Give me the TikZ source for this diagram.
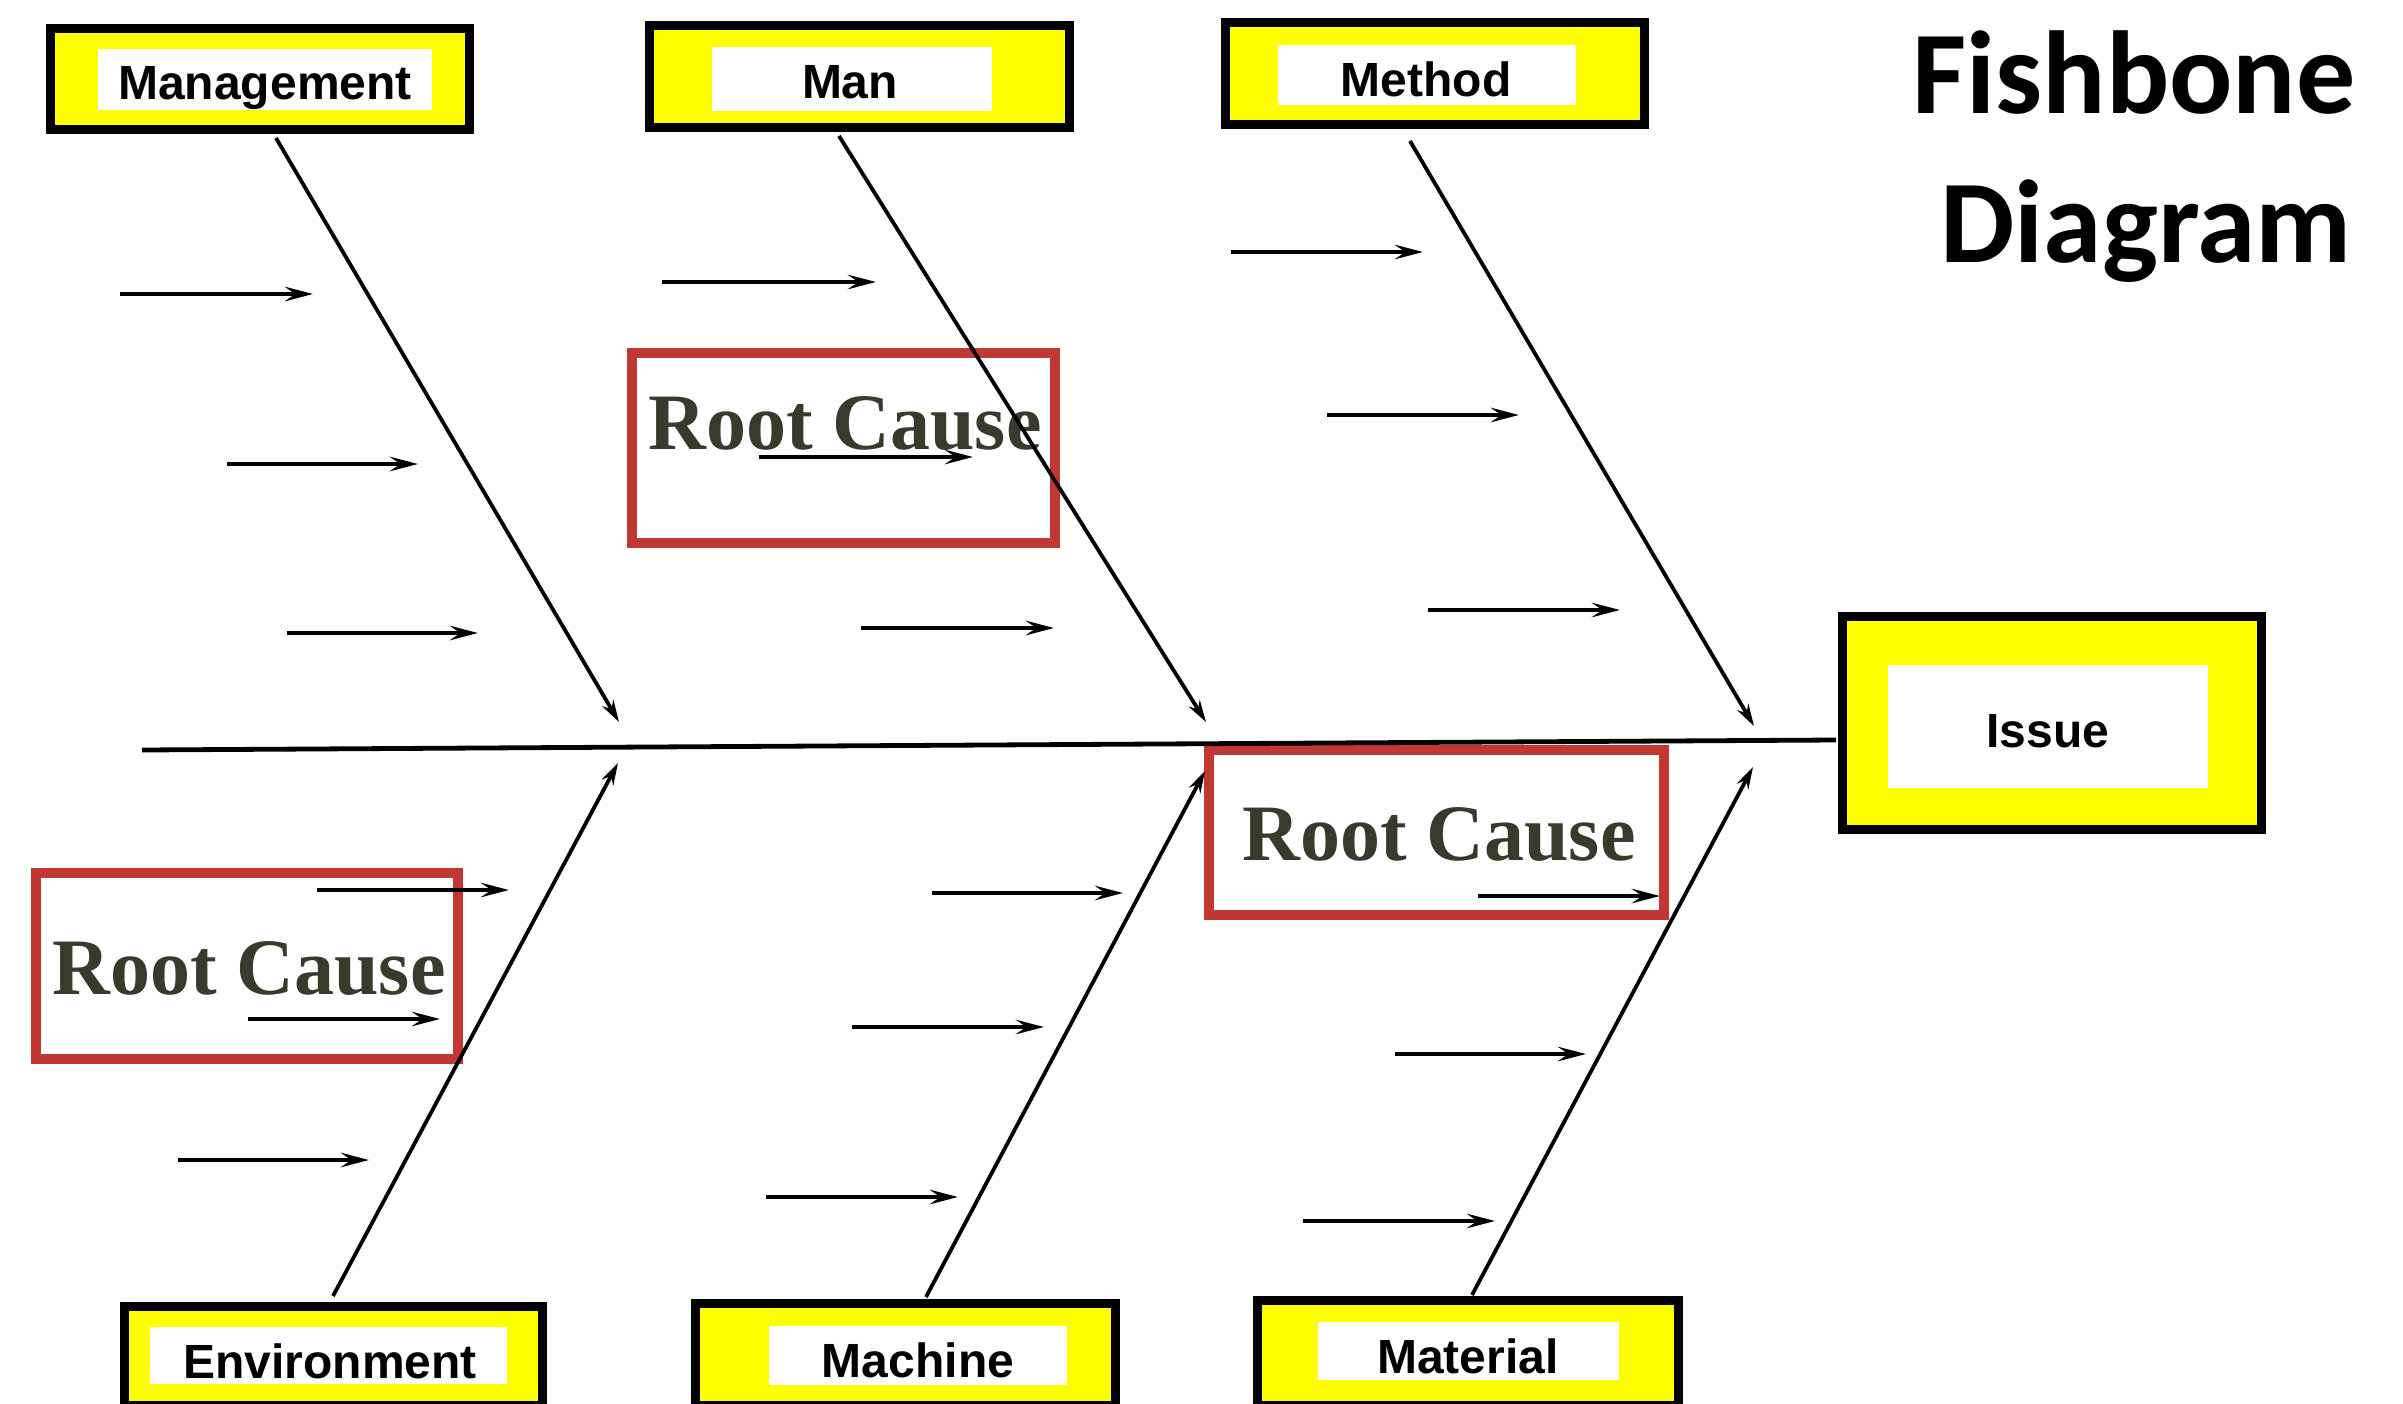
\documentclass[tikz,border=0pt]{standalone}
\usepackage{fontspec}
\usetikzlibrary{arrows.meta,fit}
\newfontfamily\labfont{Liberation Sans}
\newfontfamily\rcfont{Liberation Serif}
\newfontfamily\titlefont{Carlito}
\definecolor{rcred}{RGB}{193,56,50}
\definecolor{rcink}{RGB}{56,58,44}
\definecolor{boxyellow}{RGB}{255,255,0}
\tikzset{
  catbox/.style={draw=black, fill=boxyellow, line width=2.25pt, inner sep=0pt, outer sep=0pt, rectangle},
  whitebox/.style={fill=white, draw=none, inner sep=0pt, outer sep=0pt, rectangle},
  catlabel/.style={font=\labfont\bfseries\fontsize{12}{14}\selectfont, text height=8.6pt, text depth=0pt, inner sep=0pt},
  rcbox/.style={draw=rcred, line width=2.5pt, inner sep=0pt, outer sep=0pt, rectangle},
  rctext/.style={font=\rcfont\bfseries\fontsize{20}{24}\selectfont, text=rcink, anchor=base, inner sep=0pt},
  titletext/.style={font=\titlefont\bfseries\fontsize{29.5}{34}\selectfont, anchor=base, inner sep=0pt},
  bone/.style={line width=0.95pt, -{Stealth[length=5.5pt,width=3.2pt,inset=1.8pt]}},
  subarrow/.style={line width=1.15pt, -{Stealth[length=7pt,width=3.6pt,inset=2.6pt]}},
  spineline/.style={line width=1.2pt}
}
\begin{document}
\begin{tikzpicture}[x=0.25pt,y=-0.25pt]
\useasboundingbox (0,0) rectangle (2403,1404);
\clip (0,0) rectangle (2403,1404);

% category boxes
\node[catbox, fit={(50.5,28.5) (469.5,129.5)}] (mgmt) {};
\node[whitebox, fit={(98,49) (432,110)}] (mgmtw) {};
\node[catlabel] (mgmtl) at (265,82) {Management};

\node[catbox, fit={(649.5,25.5) (1069.5,127.5)}] (man) {};
\node[whitebox, fit={(712,47) (992,111)}] (manw) {};
\node[catlabel] (manl) at (850,81) {Man};

\node[catbox, fit={(1225.5,22.5) (1644.5,124.5)}] (meth) {};
\node[whitebox, fit={(1278,45) (1576,105)}] (methw) {};
\node[catlabel] (methl) at (1426,79) {Method};

\node[catbox, fit={(124.5,1306.5) (542.5,1405.5)}] (env) {};
\node[whitebox, fit={(150,1327) (507,1384)}] (envw) {};
\node[catlabel] (envl) at (330,1361) {Environment};

\node[catbox, fit={(695.5,1303.5) (1115.5,1405.5)}] (mach) {};
\node[whitebox, fit={(769,1326) (1067,1385)}] (machw) {};
\node[catlabel] (machl) at (918,1360) {Machine};

\node[catbox, fit={(1257.5,1300.5) (1678.5,1405.5)}] (mat) {};
\node[whitebox, fit={(1318,1322) (1619,1380)}] (matw) {};
\node[catlabel] (matl) at (1468,1356) {Material};

\node[catbox, fit={(1842.5,616.5) (2261.5,829.5)}] (issue) {};
\node[whitebox, fit={(1888,665) (2208,788)}] (issuew) {};
\node[catlabel] (issuel) at (2048,730) {Issue};

% title
\node[titletext] (title1) at (2134,113) {Fishbone};
\node[titletext] (title2) at (2146,262) {Diagram};

% root cause boxes
\node[rcbox, fit={(632,353) (1055,543)}] (rc1) {};
\node[rctext] (rc1t) at (845,449) {Root Cause};
\node[rcbox, fit={(36,873) (458,1059)}] (rc2) {};
\node[rctext] (rc2t) at (249,994) {Root Cause};
\node[rcbox, fit={(1209,750) (1664,915)}] (rc3) {};
\node[rctext] (rc3t) at (1439,860) {Root Cause};

% spine
\coordinate (spineL) at (142,750);
\coordinate (spineR) at (1836,740);
\draw[spineline] (spineL) -- (spineR);

% main bones
\coordinate (mgmtS) at (276,138);  \coordinate (mgmtT) at (619,722);
\coordinate (manS) at (839,136);   \coordinate (manT) at (1206,722);
\coordinate (methS) at (1410,141); \coordinate (methT) at (1754,726);
\coordinate (envS) at (333,1296);  \coordinate (envT) at (618,763);
\coordinate (machS) at (926,1297); \coordinate (machT) at (1205,771);
\coordinate (matS) at (1472,1295); \coordinate (matT) at (1753,767);
\draw[bone] (mgmtS) -- (mgmtT);
\draw[bone] (manS) -- (manT);
\draw[bone] (methS) -- (methT);
\draw[bone] (envS) -- (envT);
\draw[bone] (machS) -- (machT);
\draw[bone] (matS) -- (matT);

% sub-cause arrows
\foreach \n/\xa/\xb/\yy in {
  ma/120/313/294, mb/227/418/464, mc/287/478/633,
  na/662/876/282, nb/759/973/457, nc/861/1054/628,
  ta/1231/1423/252, tb/1327/1519/415, tc/1428/1620/610,
  ea/317/509/890, eb/248/440/1019, ec/178/369/1160,
  ca/932/1123/893, cb/852/1044/1027, cc/766/958/1197,
  aa/1478/1660/896, ab/1395/1586/1054, ac/1303/1495/1221}{
  \coordinate (\n s) at (\xa,\yy);
  \coordinate (\n e) at (\xb,\yy);
  \draw[subarrow] (\n s) -- (\n e);
}
\end{tikzpicture}
\end{document}
